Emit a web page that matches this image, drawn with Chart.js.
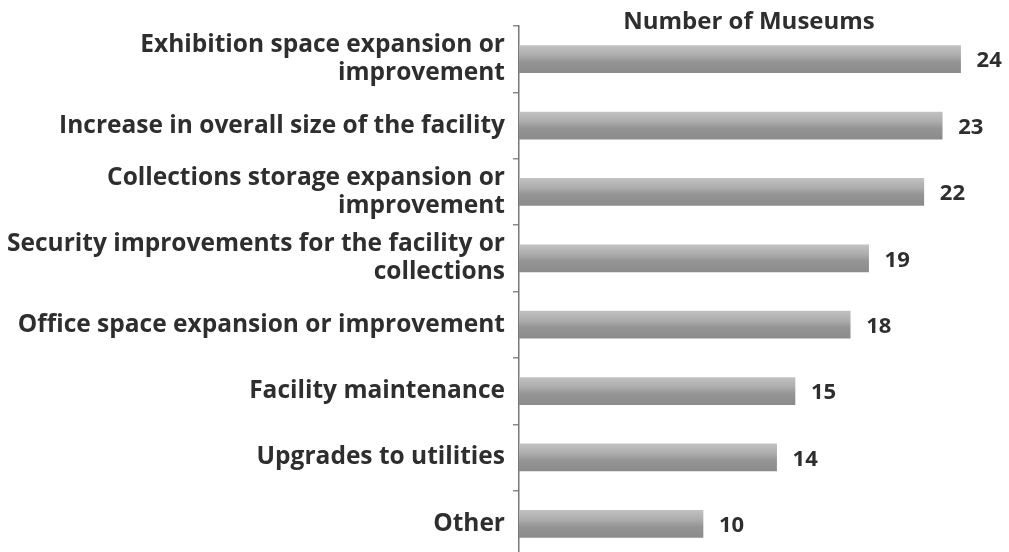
<!DOCTYPE html>
<html>
<head>
<meta charset="utf-8">
<script src="https://cdn.jsdelivr.net/npm/chart.js@4.4.0/dist/chart.umd.min.js"></script>
<style>
  html, body { margin: 0; padding: 0; background: #fff; overflow: hidden; }
  canvas { display: block; }
</style>
</head>
<body>
<canvas id="canvas" width="1009" height="557"></canvas>
<script>
var categories = [
  ['Exhibition space expansion or', 'improvement'],
  'Increase in overall size of the facility',
  ['Collections storage expansion or', 'improvement'],
  ['Security improvements for the facility or', 'collections'],
  'Office space expansion or improvement',
  'Facility maintenance',
  'Upgrades to utilities',
  'Other'
];
var museums = [24, 23, 22, 19, 18, 15, 14, 10];
var axisTitle = 'Number of Museums';

var textColor = '#2e2e2e';
var fontFamily = '"Open Sans", "Noto Sans", sans-serif';

// grey bars, lighter on top, darker below
function barFill(context) {
  var chart = context.chart;
  var y = chart.scales.y;
  if (!chart.chartArea || !y || context.dataIndex === undefined) return '#9c9c9c';
  var c = y.getPixelForValue(context.dataIndex);
  var g = chart.ctx.createLinearGradient(0, c - 14, 0, c + 14);
  g.addColorStop(0, '#c2c2c2');
  g.addColorStop(0.35, '#adadad');
  g.addColorStop(0.6, '#949494');
  g.addColorStop(1, '#8b8b8b');
  return g;
}

var valueLabels = {
  id: 'valueLabels',
  afterDatasetsDraw: function(chart) {
    var ctx = chart.ctx;
    var meta = chart.getDatasetMeta(0);
    ctx.save();
    ctx.font = 'bold 22px ' + fontFamily;
    ctx.fillStyle = textColor;
    ctx.textAlign = 'left';
    ctx.textBaseline = 'middle';
    meta.data.forEach(function(bar, i) {
      ctx.fillText(String(museums[i]), bar.x + 16, bar.y + 2);
    });
    ctx.restore();
  }
};

var ctx = document.getElementById('canvas').getContext('2d');
var chart = new Chart(ctx, {
  type: 'bar',
  data: {
    labels: categories,
    datasets: [{
      label: axisTitle,
      data: museums,
      backgroundColor: barFill,
      borderWidth: 0,
      barThickness: 27
    }]
  },
  options: {
    indexAxis: 'y',
    responsive: false,
    animation: false,
    layout: { padding: { left: 0, right: 30, top: 0, bottom: 0 } },
    plugins: {
      legend: { display: false },
      tooltip: { enabled: false }
    },
    scales: {
      x: {
        position: 'top',
        min: 0,
        max: 25,
        grid: { display: false },
        border: { display: false },
        ticks: { display: false },
        title: {
          display: true,
          text: axisTitle,
          color: textColor,
          font: { family: fontFamily, size: 24, weight: 'bold', lineHeight: 1.2 },
          padding: { top: 8, bottom: 0 }
        },
        afterFit: function(scale) { scale.height = 26; }
      },
      y: {
        offset: true,
        grid: {
          offset: true,
          drawOnChartArea: false,
          tickLength: 6,
          color: '#8a8a8a',
          lineWidth: 1.5
        },
        border: { display: true, color: '#777777', width: 1.5 },
        ticks: {
          padding: 8,
          color: textColor,
          font: { family: fontFamily, size: 24.5, weight: 'bold', lineHeight: 1.15 }
        },
        afterFit: function(scale) {
          scale.width = 519;
          // labels sit in the middle of each band, no extra room needed
          scale.paddingTop = 0;
          scale.paddingBottom = 0;
        }
      }
    }
  },
  plugins: [valueLabels]
});
</script>
</body>
</html>
